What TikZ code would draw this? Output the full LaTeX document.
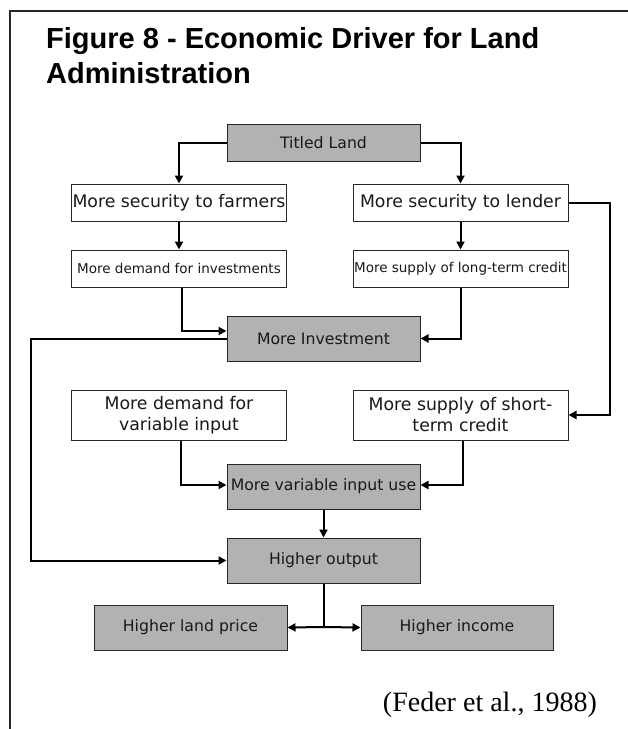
\documentclass[tikz,border=0pt]{standalone}
\usepackage{fontspec}
\setmainfont{Liberation Serif}
\newfontfamily\headfont{Liberation Sans}
\newfontfamily\boxfont{DejaVu Sans}
\usetikzlibrary{arrows.meta}

\begin{document}
\begin{tikzpicture}[x=1pt, y=-1pt,
  frame/.style={line width=2pt, black!85},
  boxbase/.style={draw=black!85, line width=1pt, inner sep=0pt, align=center,
                  text=black!90},
  gbox/.style={boxbase, fill=black!30, minimum width=193pt, minimum height=45pt,
               font=\boxfont\fontsize{15.7}{18}\selectfont},
  wbox/.style={boxbase, fill=white, minimum width=215pt, minimum height=37pt,
               font=\boxfont\fontsize{17.3}{21}\selectfont},
  wsmall/.style={wbox, font=\boxfont\fontsize{13.5}{16}\selectfont},
  wtall/.style={wbox, minimum height=50pt},
  link/.style={line width=2pt, black},
  conn/.style={link, -{Triangle[length=8pt, width=8pt]}},
  title/.style={anchor=base west, inner sep=0pt,
                font=\headfont\bfseries\fontsize{29}{34}\selectfont}
]
\useasboundingbox (0,0) rectangle (628,729);

% page frame (top and left edges only)
\draw[frame] (628,11) -- (9.5,11) -- (9.5,729);

% heading
\node[title] (t1) at (46,48) {Figure 8 - Economic Driver for Land};
\node[title] (t2) at (46,83) {Administration};

% boxes
\node[gbox, minimum height=37pt] (tl) at (323.5,142.5) {Titled Land};
\node[wbox]   (sf) at (179,202.5)   {More security to farmers};
\node[wbox]   (sl) at (460.5,202.5) {More security to lender};
\node[wsmall] (di) at (179,268.5)   {More demand for investments};
\node[wsmall] (sc) at (460.5,268.5) {More supply of long-term credit};
\node[gbox]   (mi) at (323.5,338.5) {More Investment};
\node[wtall]  (dv) at (179,415)     {More demand for\\variable input};
\node[wtall]  (ss) at (460.5,415)   {More supply of short-\\term credit};
\node[gbox]   (vu) at (323.5,486.5) {More variable input use};
\node[gbox]   (ho) at (323.5,560.5) {Higher output};
\node[gbox]   (lp) at (190.5,627.5) {Higher land price};
\node[gbox, minimum width=192pt] (hi) at (457,627.5) {Higher income};

% citation
\node[anchor=base east, inner sep=0pt, font=\fontsize{28}{32}\selectfont]
  (cite) at (597,711) {(Feder et al., 1988)};

% helper points for the outer routes
\coordinate (fb) at (31,338);
\coordinate (rt) at (610,202);
\coordinate (br) at (323.5,627);

% connectors
\draw[conn] (tl.west) -| (sf.north);
\draw[conn] (tl.east) -| (sl.north);
\draw[conn] (sf.south) -- (di.north);
\draw[conn] (sl.south) -- (sc.north);
\draw[conn] ([xshift=3pt]di.south) |- ([yshift=7.5pt]mi.west);
\draw[conn] (sc.south) |- (mi.east);
\draw[conn] (mi.west) -- (mi.west -| fb) |- (ho.west);
\draw[conn] (sl.east) -- (sl.east -| rt) |- (ss.east);
\draw[conn] ([xshift=2pt]dv.south) |- ([yshift=1.5pt]vu.west);
\draw[conn] ([xshift=2pt]ss.south) |- ([yshift=1.5pt]vu.east);
\draw[conn] (vu.south) -- (ho.north);
\draw[link] (ho.south) -- (br);
\draw[conn] (br) -- (lp.east);
\draw[conn] (br) -- (hi.west);
\end{tikzpicture}
\end{document}
